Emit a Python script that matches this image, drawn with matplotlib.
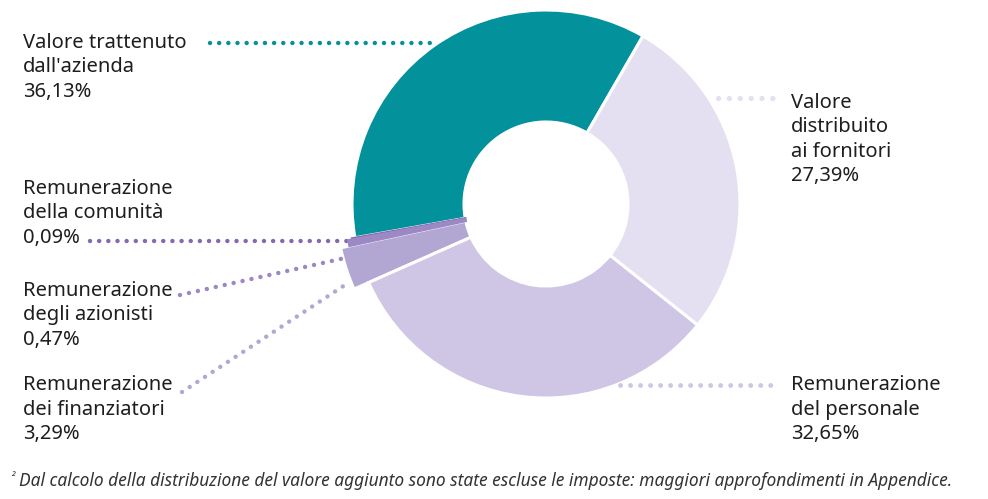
import matplotlib.pyplot as plt

# quote del valore aggiunto distribuito (%)
categorie = [
    "Valore trattenuto\ndall'azienda",
    "Remunerazione\ndella comunità",
    "Remunerazione\ndegli azionisti",
    "Remunerazione\ndei finanziatori",
    "Remunerazione\ndel personale",
    "Valore\ndistribuito\nai fornitori",
]
valori = [36.13, 0.09, 0.47, 3.29, 32.65, 27.39]
etichette_pct = ["36,13%", "0,09%", "0,47%", "3,29%", "32,65%", "27,39%"]
colori = ["#03929B", "#8569B0", "#9C88C5", "#B2A7D3", "#CEC6E4", "#E4E0F2"]
nota = "Dal calcolo della distribuzione del valore aggiunto sono state escluse le imposte: maggiori approfondimenti in Appendice."

W, H = 988, 499
fig = plt.figure(figsize=(W / 100, H / 100), dpi=100)
ax = fig.add_axes([0, 0, 1, 1])


def Y(y):  # coordinate immagine -> coordinate assi
    return H - y


cx, cy, R, r_in = 546, Y(204), 194, 82
wedges, _ = ax.pie(
    valori, colors=colori, startangle=60, counterclock=True,
    center=(cx, cy), radius=R,
    wedgeprops=dict(width=R - r_in, edgecolor="white", linewidth=2.2),
)
ax.set_xlim(0, W)
ax.set_ylim(0, H)
ax.set_aspect("equal")
ax.axis("off")

# fette piccole messe in evidenza
for i, rr in [(1, 197), (2, 201), (3, 210)]:
    wedges[i].set_radius(rr)
    wedges[i].set_width(rr - r_in)
for i in [1, 2]:
    wedges[i].set_edgecolor(colori[i])
    wedges[i].set_linewidth(1.6)
    wedges[i].set_zorder(3)

# linee di richiamo a puntini
linee = [
    ((210, 43), (438, 43), colori[0], 3.2),
    ((90, 241), (355, 241), colori[1], 3.2),
    ((180, 295), (345, 258), colori[2], 3.2),
    ((182, 392), (348, 283), colori[3], 3.2),
    ((620, 385), (780, 385), colori[4], 3.5),
    ((718, 98), (783, 98), colori[5], 3.8),
]
for (x0, y0), (x1, y1), c, lw in linee:
    ax.plot([x0, x1], [Y(y0), Y(y1)], color=c, lw=lw,
            linestyle=(0, (0.01, 2.05)), dash_capstyle="round", zorder=1)

font = "Noto Sans"
fs = 14.5
pos_testi = [(23, 67), (23, 213), (23, 315), (23, 410), (791, 409.5), (791, 139.5)]
for (x, y), cat, pct in zip(pos_testi, categorie, etichette_pct):
    ax.text(x, Y(y), f"{cat}\n{pct}", ha="left", va="center", fontsize=fs,
            family=font, color="#1e1e1e", linespacing=1.3)

ax.text(10, Y(477), "²", ha="left", va="center", fontsize=8.5, color="#333333",
        family="Noto Sans", style="italic")
ax.text(19, Y(481), nota, ha="left", va="center", fontsize=12.5, color="#333333",
        family="Noto Sans", style="italic")

fig.savefig("out.png", dpi=100)
